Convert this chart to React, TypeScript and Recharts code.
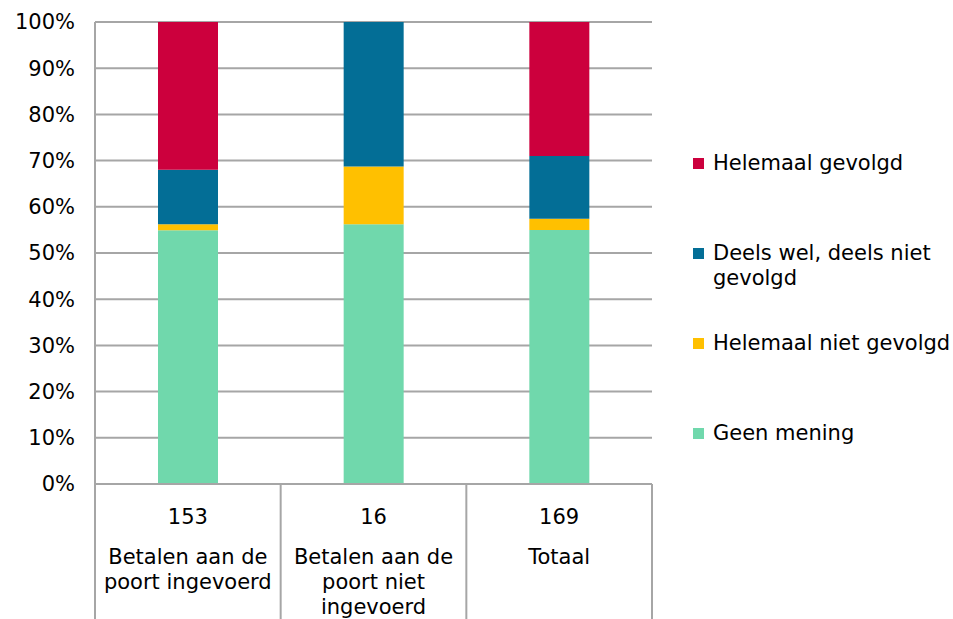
import React from "react";
import { BarChart, Bar, XAxis, YAxis, CartesianGrid } from "recharts";

const categories = ["Betalen aan de poort ingevoerd", "Betalen aan de poort niet ingevoerd", "Totaal"];
const categoryLines = [
  ["Betalen aan de", "poort ingevoerd"],
  ["Betalen aan de", "poort niet", "ingevoerd"],
  ["Totaal"],
];
const counts = ["153", "16", "169"];

const geenMening = [54.9, 56.25, 55.0];
const helemaalNiet = [1.3, 12.5, 2.4];
const deelsWel = [11.8, 31.25, 13.6];
const helemaalGevolgd = [32.0, 0, 29.0];

const yTicks = [0, 10, 20, 30, 40, 50, 60, 70, 80, 90, 100];

const series = [
  { key: "geen", name: "Geen mening", color: "#70D8AC", values: geenMening },
  { key: "niet", name: "Helemaal niet gevolgd", color: "#FFC000", values: helemaalNiet },
  { key: "deels", name: "Deels wel, deels niet gevolgd", color: "#036E96", values: deelsWel },
  { key: "hel", name: "Helemaal gevolgd", color: "#CC003D", values: helemaalGevolgd },
];

const data = categories.map((c, i) => {
  const row: any = { name: c, idx: i };
  series.forEach((s) => (row[s.key] = s.values[i]));
  return row;
});

const W = 953;
const H = 619;
const M_TOP = 22;
const Y_W = 95;
const M_RIGHT = 301;
const X_H = 135;
const PLOT_W = W - Y_W - M_RIGHT;
const HALF_BAND = PLOT_W / categories.length / 2;

const FONT = "'DejaVu Sans', Verdana, sans-serif";
const FS = 21;
const GRAY = "#A6A6A6";
const LW = 2;

const XTick = (props: any) => {
  const { x, y, index } = props;
  const lines = categoryLines[index] || [];
  return (
    <g>
      <line x1={x - HALF_BAND} y1={y} x2={x - HALF_BAND} y2={y + X_H} stroke={GRAY} strokeWidth={LW} />
      {index === categories.length - 1 && (
        <line x1={x + HALF_BAND} y1={y} x2={x + HALF_BAND} y2={y + X_H} stroke={GRAY} strokeWidth={LW} />
      )}
      <text x={x} y={y + 40} textAnchor="middle" fontFamily={FONT} fontSize={FS} fill="#000">
        {counts[index]}
      </text>
      {lines.map((l, i) => (
        <text key={i} x={x} y={y + 80 + i * 25} textAnchor="middle" fontFamily={FONT} fontSize={FS} fill="#000">
          {l}
        </text>
      ))}
    </g>
  );
};

const LegendBox = () => {
  const items = [...series].reverse();
  return (
    <div
      style={{
        position: "absolute",
        left: 693,
        top: 151,
        width: 265,
        fontFamily: FONT,
        fontSize: FS,
        lineHeight: "25px",
        color: "#000",
      }}
    >
      {items.map((s) => (
        <div key={s.key} style={{ height: 89.9, position: "relative" }}>
          <div
            style={{
              position: "absolute",
              left: 0,
              top: 7,
              width: 11,
              height: 11,
              background: s.color,
            }}
          />
          <div style={{ position: "absolute", left: 20, top: 0, width: 245 }}>{s.name}</div>
        </div>
      ))}
    </div>
  );
};

export default function App() {
  return (
    <div style={{ position: "absolute", left: 0, top: 0, width: W, height: H, background: "#fff" }}>
      <BarChart
        width={W}
        height={H}
        data={data}
        margin={{ top: M_TOP, right: M_RIGHT, bottom: 0, left: 0 }}
        barSize={60}
      >
        <CartesianGrid vertical={false} stroke={GRAY} strokeWidth={LW} yAxisId="left" />
        <XAxis
          dataKey="name"
          height={X_H}
          tickLine={false}
          tickSize={0}
          tickMargin={0}
          axisLine={{ stroke: GRAY, strokeWidth: LW }}
          tick={<XTick />}
          interval={0}
        />
        <YAxis
          yAxisId="left"
          width={Y_W}
          domain={[0, 100]}
          ticks={yTicks}
          tickFormatter={(v: number) => `${v}%`}
          tickSize={0}
          tickMargin={20}
          tickLine={false}
          axisLine={{ stroke: GRAY, strokeWidth: LW }}
          tick={{ fontFamily: FONT, fontSize: FS, fill: "#000" }}
          interval={0}
        />
        <YAxis
          yAxisId="right"
          orientation="right"
          width={0}
          domain={[0, 100]}
          tick={false}
          tickLine={false}
          axisLine={{ stroke: GRAY, strokeWidth: LW }}
        />
        {series.map((s) => (
          <Bar
            key={s.key}
            dataKey={s.key}
            name={s.name}
            stackId="a"
            fill={s.color}
            yAxisId="left"
            isAnimationActive={false}
          />
        ))}
      </BarChart>
      <LegendBox />
    </div>
  );
}
